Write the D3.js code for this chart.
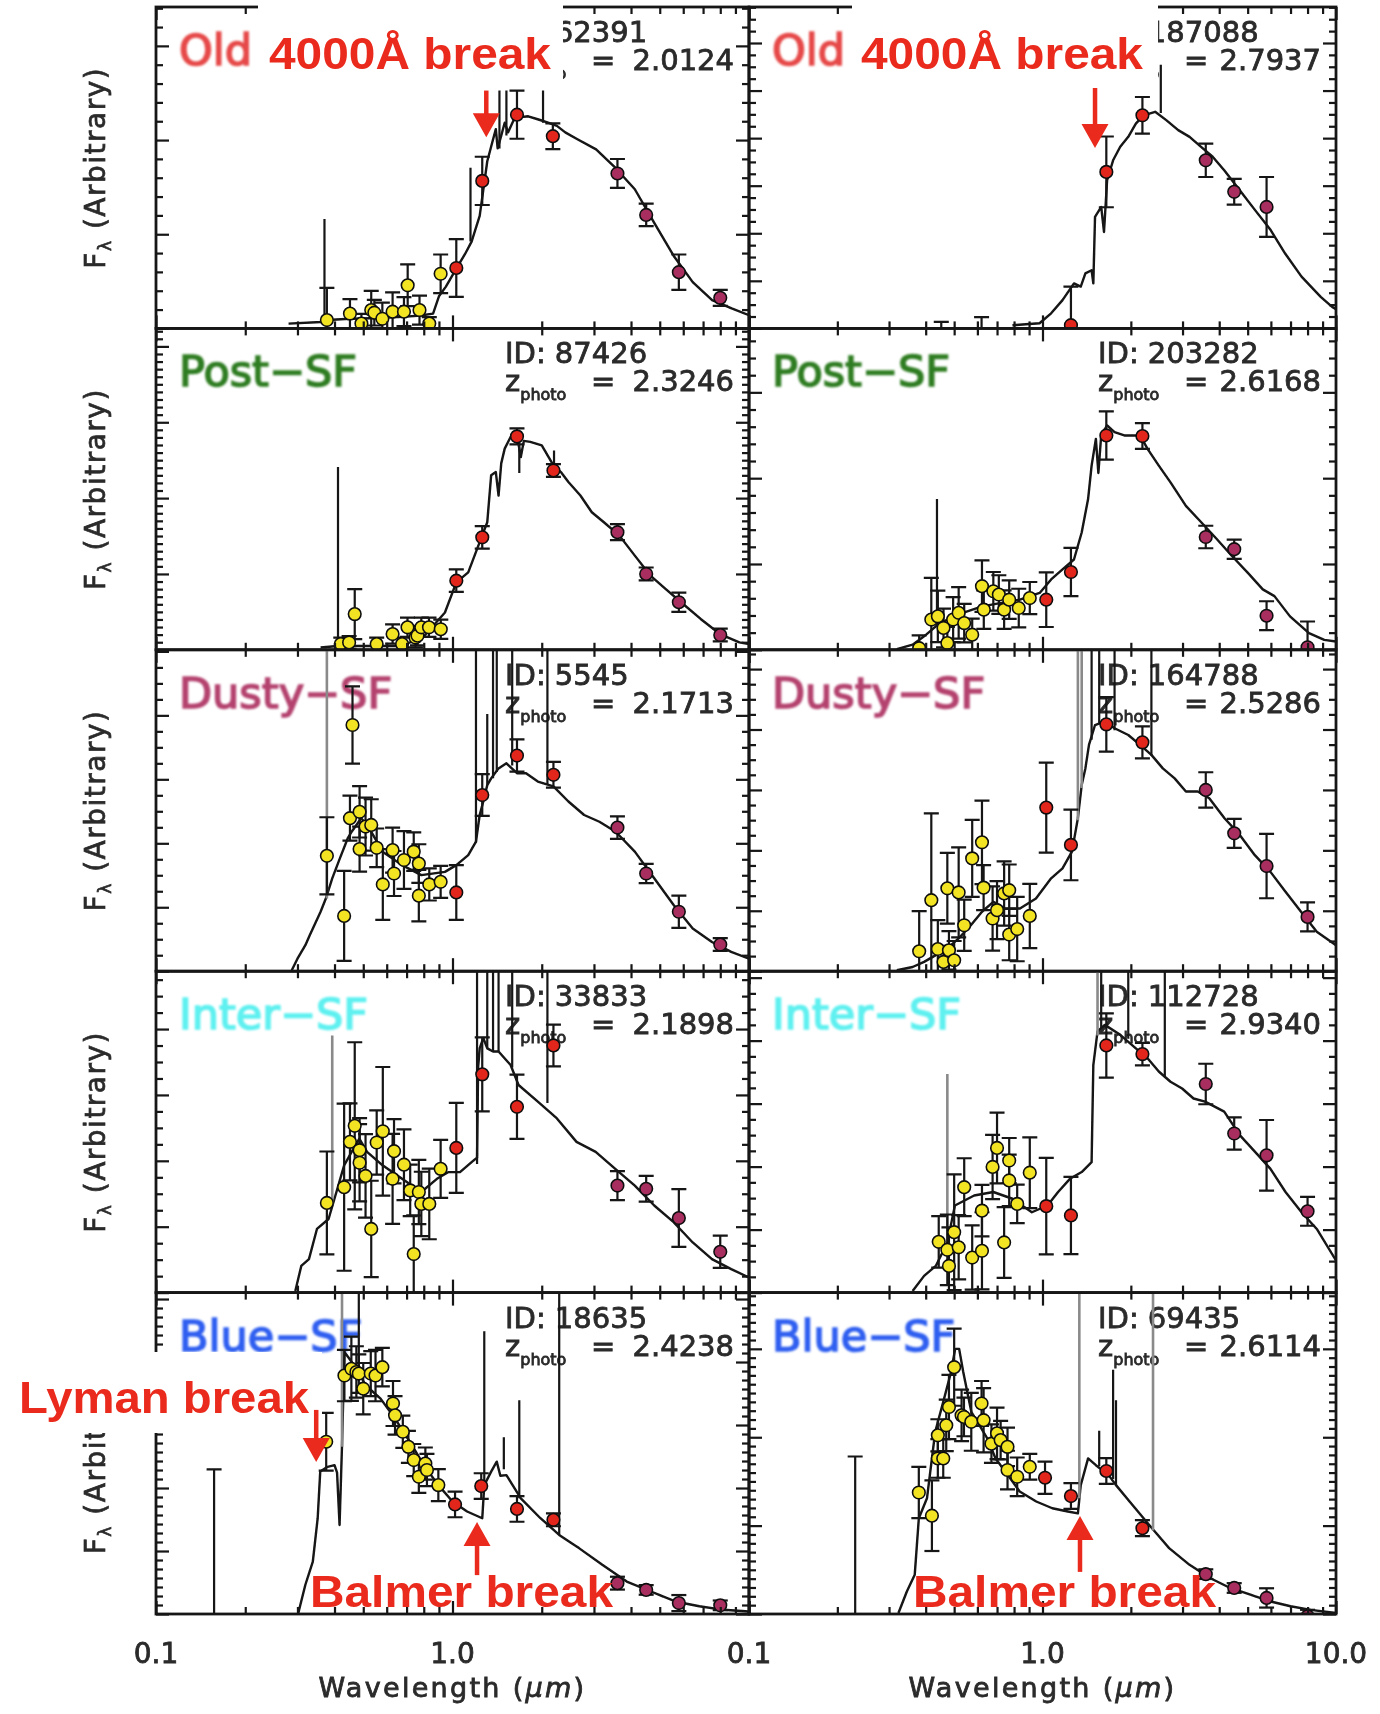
<!DOCTYPE html>
<html>
<head>
<meta charset="utf-8">
<script src="https://cdn.jsdelivr.net/npm/d3@7"></script>
<style>
  body { margin: 0; background: #fff; }
  svg { display: block; }
</style>
</head>
<body>
<svg id="chart" width="1380" height="1714"></svg>
<script>
// ---------------------------------------------------------------
// SED fits for ten galaxies: wavelength in micron, flux in arbitrary
// units (0-100 of each panel's range).  Model: [lambda, flux].
// Photometry: [lambda, flux, error].  Lines: [lambda, from, to].
// ---------------------------------------------------------------

const categories = ['Old', 'Post\u2212SF', 'Dusty\u2212SF', 'Inter\u2212SF', 'Blue\u2212SF'];
const categoryColors = ['#e64a48', '#2f7d22', '#b4426e', '#5ff0f0', '#2f5ff0'];

const galaxyIds = [['62391', '187088'], ['87426', '203282'], ['5545', '164788'], ['33833', '112728'], ['18635', '69435']];
const zPhoto = [['2.0124', '2.7937'], ['2.3246', '2.6168'], ['2.1713', '2.5286'], ['2.1898', '2.9340'], ['2.4238', '2.6114']];

const xMajorTicks = [0.1, 1, 10];
const xMinorTicks = [0.2, 0.3, 0.4, 0.5, 0.6, 0.7, 0.8, 0.9, 2, 3, 4, 5, 6, 7, 8, 9];

// ---- Old, left ----
const modelOldL = [[0.28,1.5],[0.36,2],[0.38,2.6],[0.45,3],[0.5,3.1],[0.6,3.4],[0.68,3.6],[0.78,4],[0.86,4.6],[0.90,10],[0.95,13],[1.03,18.6],[1.10,23],[1.16,27],[1.235,35],[1.31,52],[1.36,57.7],[1.40,62],[1.42,56],[1.46,60],[1.50,64],[1.54,61],[1.62,65.5],[1.80,66],[1.95,65],[2.1,64],[2.25,63],[2.4,61],[2.62,59],[3.05,55.7],[3.54,50],[4.12,43.3],[4.78,33],[5.56,22.7],[6.46,14.4],[7.51,8.8],[8.74,6.2],[10,4.1]];
const linesOldL = [[0.37,2,34],[1.15,27,50],[1.44,56,74],[1.52,60,74],[2.02,64,74]];
const greyOldL = [];
const yellowOldL = [[0.377,2.6,10],[0.451,4.6,4.5],[0.493,1.5,3],[0.532,5.7,6],[0.545,4.9,4],[0.58,3,5],[0.628,5.2,6],[0.686,5.2,4.5],[0.706,13.4,6.5],[0.774,5.7,4.5],[0.835,1.5,2],[0.912,17,6]];
const redOldL = [[1.03,18.8,9],[1.26,45.9,7.5],[1.65,66.5,7.5],[2.18,59.8,4]];
const purpleOldL = [[3.6,48.2,4.5],[4.5,35.3,3.5],[5.8,17.5,5.5],[8.0,9.5,2.5]];

// ---- Old, right ----
const modelOldR = [[0.79,1],[0.977,1.6],[1.07,4.7],[1.17,8.8],[1.28,14],[1.35,13],[1.40,17.1],[1.47,18.1],[1.49,14],[1.51,34.7],[1.585,37.8],[1.62,30],[1.66,46.1],[1.74,52.3],[1.84,56.5],[1.96,59.6],[2.08,63.7],[2.21,66.3],[2.42,67.4],[2.64,64.8],[2.90,61.7],[3.17,59.6],[3.47,56.5],[3.80,53.4],[4.16,49.2],[4.70,43],[5.30,36.8],[5.99,30.6],[6.71,23.3],[7.63,16.1],[8.87,9.8],[9.70,6.7],[10,6]];
const linesOldR = [[2.53,67,82]];
const greyOldR = [];
const yellowOldR = [[0.452,-2,4],[0.62,-2,5.5]];
const redOldR = [[1.25,1,12],[1.65,48.7,11],[2.19,66.3,5.7]];
const purpleOldR = [[3.6,52.3,5.2],[4.5,42.5,4],[5.8,37.8,9.3]];

// ---- Post-SF, left ----
const modelPostL = [[0.359,0.7],[0.41,1.2],[0.5,1.2],[0.656,1.2],[0.785,3.3],[0.943,11.6],[1.03,21],[1.13,24.1],[1.235,33.5],[1.31,39.7],[1.35,54.3],[1.40,55.3],[1.43,48],[1.46,58],[1.50,62.6],[1.57,66.2],[1.65,66.7],[1.70,60],[1.74,65],[1.83,64.7],[2.0,63.6],[2.19,57.4],[2.32,55.3],[2.46,52.2],[2.70,48],[2.95,42.8],[3.24,39.7],[3.65,35.6],[4.12,29.3],[4.65,23.1],[5.24,18.9],[5.90,14.8],[6.87,9.6],[7.98,4.9],[9.28,2.3],[10,1.8]];
const linesPostL = [[0.411,1.2,56.9],[1.68,55,66],[2.2,57,62]];
const greyPostL = [];
const yellowPostL = [[0.42,1.8,2],[0.448,2.3,2],[0.468,11.1,7.8],[0.555,1.8,2],[0.628,4.9,3],[0.676,1.8,2],[0.705,7,3],[0.75,3.8,3],[0.762,4.4,3],[0.785,7,3],[0.833,7,3],[0.913,6.4,3]];
const redPostL = [[1.03,21.5,3.5],[1.26,35,3.5],[1.65,66.4,2.5],[2.19,55.8,2]];
const purplePostL = [[3.6,36.6,2.5],[4.5,23.6,2],[5.8,14.8,3],[8.0,4.6,2]];

// ---- Post-SF, right ----
const modelPostR = [[0.319,0.2],[0.361,1.6],[0.395,4.2],[0.433,7.3],[0.474,9.4],[0.535,11.5],[0.623,13.5],[0.724,14.6],[0.838,15.6],[0.978,17.7],[1.07,21.9],[1.17,25],[1.28,28.1],[1.36,36.5],[1.43,46.9],[1.47,57.3],[1.52,65.6],[1.55,55],[1.585,66.7],[1.66,69.8],[1.76,67.7],[1.90,66.7],[2.15,66.7],[2.28,62.5],[2.49,57.3],[2.73,52.1],[3.08,44.8],[3.48,39.6],[3.93,34.4],[4.42,29.2],[5.0,24],[5.63,18.8],[6.17,16.7],[6.97,10.4],[8.09,5.2],[9.12,3.1],[10,2.6]];
const linesPostR = [[0.437,7.5,46.9]];
const greyPostR = [];
const yellowPostR = [[0.38,0.5,4],[0.418,9.4,13],[0.44,10.4,8],[0.46,6.8,6],[0.474,2.1,5],[0.496,9.4,7],[0.518,11.5,8],[0.541,8.3,6],[0.576,4.7,5],[0.622,19.8,8],[0.631,12.5,6],[0.68,18.2,6],[0.71,17.2,6],[0.74,12.5,6],[0.77,15.6,6],[0.83,13,6],[0.905,16.1,5]];
const redPostR = [[1.03,15.6,8.5],[1.25,24.2,7.5],[1.65,66.7,7.5],[2.19,66.5,4]];
const purplePostR = [[3.6,35.1,3.5],[4.5,31.3,3],[5.8,10.6,4.5],[8.0,0.8,8]];

// ---- Dusty-SF, left ----
const modelDustyL = [[0.287,0.3],[0.300,3.9],[0.319,8.1],[0.33,11.2],[0.359,18.5],[0.374,22.6],[0.393,28.9],[0.417,35.1],[0.443,41.3],[0.457,43.4],[0.492,47.6],[0.52,45],[0.581,37.2],[0.676,33],[0.785,29.9],[0.943,30.9],[1.03,33],[1.13,36.1],[1.20,40.3],[1.235,48.6],[1.27,52.8],[1.31,57.9],[1.35,60],[1.43,63.1],[1.52,64.7],[1.65,61.6],[1.77,61.6],[1.94,59],[2.19,57.5],[2.46,52.8],[2.78,48.6],[3.13,46.5],[3.55,43.4],[4.12,37.2],[4.79,28.9],[5.57,20.6],[6.46,13.3],[7.50,9.1],[8.71,6],[10,3.9]];
const linesDustyL = [[1.20,40,110],[1.31,58,80],[1.37,60,110],[1.41,62,110],[1.59,64,110],[2.09,58,110]];
const greyDustyL = [[0.377,22.6,110]];
const yellowDustyL = [[0.377,35.9,12],[0.431,17.2,14],[0.451,47.6,7],[0.46,76.6,12],[0.486,49.6,8],[0.486,38,7],[0.509,45,9],[0.532,45.5,8],[0.555,38.4,6],[0.582,27,11],[0.628,37.7,7],[0.635,30.4,7],[0.686,34.6,9],[0.74,37.2,6],[0.77,33.5,6],[0.77,23.5,8],[0.835,27,5],[0.912,27.8,5]];
const redDustyL = [[1.03,24.5,8.5],[1.26,54.8,6.5],[1.65,67.1,5],[2.19,61.1,4]];
const purpleDustyL = [[3.6,44.7,3.5],[4.5,30.4,3],[5.8,18.5,5],[8.0,8.3,2]];

// ---- Dusty-SF, right ----
const modelDustyR = [[0.319,0.3],[0.361,1.3],[0.395,2.9],[0.433,5],[0.474,7.1],[0.518,10.2],[0.57,14.3],[0.622,18.5],[0.68,21.6],[0.745,19.5],[0.838,19.5],[0.95,22.6],[1.07,28.9],[1.17,32],[1.26,37.2],[1.32,47.6],[1.36,57.9],[1.40,63.1],[1.44,70.4],[1.51,76.6],[1.63,77.7],[1.76,75.6],[1.96,73.5],[2.15,70.4],[2.35,67.3],[2.57,63.1],[2.82,60],[3.08,55.9],[3.38,55.9],[3.70,53.8],[4.17,47.6],[4.70,42.4],[5.29,36.1],[5.98,30.9],[6.73,24.7],[7.6,18.5],[8.6,12.3],[10,8.1]];
const linesDustyR = [[1.47,72,110],[1.56,77,110],[1.76,75,110],[2.35,67,110]];
const greyDustyR = [[1.32,47,110],[1.36,57,110]];
const yellowDustyR = [[0.38,6.2,12.5],[0.418,22.1,27],[0.44,6.9,9],[0.46,2.9,5],[0.474,25.8,11],[0.48,6.5,6],[0.50,3.4,6],[0.518,24.5,14],[0.541,14.3,8],[0.576,35.1,12],[0.622,40.1,13],[0.63,26,7],[0.676,16.4,10],[0.70,19,9],[0.74,24.2,10],[0.77,25.2,8],[0.77,11.4,8],[0.82,13.1,10],[0.905,17.2,10]];
const redDustyR = [[1.03,50.9,14],[1.25,39.3,11],[1.65,76.8,8.5],[2.19,71.2,5]];
const purpleDustyR = [[3.6,56.4,5.5],[4.5,42.9,4.5],[5.8,32.7,10],[8.0,16.9,4.5]];

// ---- Inter-SF, left ----
const modelInterL = [[0.295,0.5],[0.309,8.3],[0.328,10.4],[0.349,19.8],[0.382,22.9],[0.406,31.3],[0.431,39.6],[0.457,43.8],[0.485,47.9],[0.515,43.8],[0.581,39.6],[0.676,35.4],[0.785,31.3],[0.886,35.4],[0.97,37.5],[1.06,37.5],[1.16,40.6],[1.21,42],[1.22,70],[1.235,76],[1.27,79.2],[1.31,76],[1.37,75],[1.43,75],[1.57,70.8],[1.67,64.6],[1.94,59.4],[2.25,54.2],[2.62,46.9],[3.04,43.8],[3.54,38.5],[4.12,33.3],[4.79,27.1],[5.57,21.9],[6.46,15.6],[7.50,10.4],[8.71,7.3],[10,4.7]];
const linesInterL = [[1.21,40,110],[1.31,76,110],[1.37,75,110],[1.43,75,110],[1.59,70,110],[2.09,59,110]];
const greyInterL = [[0.393,27,80]];
const yellowInterL = [[0.377,27.9,16],[0.431,32.8,26],[0.451,46.9,12],[0.468,51.9,26],[0.486,44.3,10],[0.486,40.4,12],[0.509,36.3,13],[0.532,19.8,15],[0.555,46.7,10],[0.582,50.2,20],[0.628,35.4,14],[0.635,44,10],[0.686,39.8,11],[0.72,31.8,8],[0.74,12,12],[0.77,31.3,10],[0.785,27.6,10],[0.835,27.6,11],[0.912,38.5,9]];
const redInterL = [[1.03,45,14],[1.26,67.9,11.5],[1.65,57.8,10],[2.19,76.9,6.5]];
const purpleInterL = [[3.6,33.3,4.5],[4.5,32.3,4],[5.8,23.2,9],[8.0,12.7,5]];

// ---- Inter-SF, right ----
const modelInterR = [[0.361,0.5],[0.395,5.2],[0.433,8.3],[0.474,15.6],[0.503,27.1],[0.585,30.2],[0.68,31.3],[0.79,29.2],[0.92,25],[1.04,27.1],[1.13,31.3],[1.24,35.4],[1.36,37.5],[1.47,40.6],[1.49,70.8],[1.54,81.3],[1.63,83.3],[1.84,80.2],[2.08,76],[2.28,72.9],[2.49,68.8],[2.73,65.6],[2.99,63.5],[3.27,60.4],[3.58,59.4],[4.16,56.3],[4.70,49],[5.30,43.8],[5.98,38.5],[6.73,31.3],[7.63,25],[8.60,19.8],[10,10]];
const linesInterR = [[1.585,82,110],[1.96,79,110],[2.61,67,110]];
const greyInterR = [[0.474,15.6,68],[1.54,80,110]];
const yellowInterR = [[0.443,15.8,8],[0.474,13.3,11],[0.48,8.3,12],[0.50,18.8,18],[0.518,14.1,10],[0.541,32.8,9],[0.576,10.9,10],[0.622,25.5,8],[0.622,13,12],[0.676,39.1,10],[0.70,45,11],[0.74,15.6,11],[0.77,41.1,7],[0.77,34.9,8],[0.82,27.6,6],[0.905,37.3,11]];
const redInterR = [[1.03,26.9,15],[1.25,24,12],[1.65,76.9,10],[2.19,74.2,3.5]];
const purpleInterR = [[3.6,64.9,6.3],[4.5,49.5,5],[5.8,42.7,11],[8.0,25.3,4.5]];

// ---- Blue-SF, left ----
const modelBlueL = [[0.302,0.3],[0.319,9.1],[0.338,16.3],[0.351,29.8],[0.358,44.3],[0.379,45.8],[0.40,46.3],[0.408,44],[0.416,27.7],[0.424,52.5],[0.432,81.5],[0.449,79.4],[0.474,76.3],[0.51,71.1],[0.572,67],[0.64,60.8],[0.718,53.6],[0.80,46.3],[0.896,40.1],[1.0,35],[1.12,31.9],[1.26,29.8],[1.28,40.1],[1.35,44.3],[1.41,47.4],[1.45,43],[1.52,43.2],[1.70,36],[1.98,29.8],[2.29,24.6],[2.67,20.5],[3.2,15.3],[3.87,10.1],[4.67,7],[5.64,3.9],[6.8,2.4],[8.2,1.3],[10,0.8]];
const linesBlueL = [[1.28,40,88],[1.49,45,55],[1.68,36,66.5],[2.29,24.6,110],[0.483,75,110]];
const greyBlueL = [[0.424,52,110]];
const yellowBlueL = [[0.157,-6,51],[0.375,53.6,9],[0.432,74.2,8],[0.456,76.3,10],[0.474,75.3,8],[0.483,74.8,6],[0.50,70.1,8],[0.53,74.8,7],[0.55,74.2,8],[0.58,76.8,6],[0.63,65.5,7],[0.64,61.8,6],[0.68,56.7,5],[0.71,52,5],[0.74,47.9,5],[0.77,42.7,5],[0.81,46.8,5],[0.82,44.8,5],[0.896,40.1,5]];
const redBlueL = [[1.02,34.1,4],[1.25,39.8,4],[1.65,32.7,4],[2.19,29.3,2]];
const purpleBlueL = [[3.6,9.6,2],[4.5,7.5,1.5],[5.8,3.4,2.5],[8.0,2.7,1.5]];

// ---- Blue-SF, right ----
const modelBlueR = [[0.323,0.3],[0.345,7],[0.367,12.2],[0.379,29.8],[0.404,36],[0.431,56.7],[0.459,66],[0.488,75.3],[0.504,82.5],[0.52,82.5],[0.537,75.3],[0.572,62.9],[0.61,58.7],[0.649,54.6],[0.692,48.4],[0.762,43.2],[0.836,38.1],[0.952,35],[1.08,32.9],[1.22,31.9],[1.32,31.3],[1.35,40.1],[1.39,44.3],[1.43,48.4],[1.52,46.3],[1.68,43.2],[1.78,40.1],[1.98,35],[2.31,27.7],[2.70,20.5],[3.17,15.3],[3.72,11.2],[4.36,8.1],[5.11,6],[5.99,3.9],[7.0,2.4],[8.2,1.3],[10,0.3]];
const linesBlueR = [[1.56,46,57],[1.74,42,76],[1.78,40,66.5]];
const greyBlueR = [[1.335,36,110],[2.38,26,110]];
const yellowBlueR = [[0.23,-6,55],[0.379,37.8,8],[0.42,30.6,11],[0.44,55.6,5],[0.44,48.4,6],[0.459,48.4,6],[0.47,58.7,8],[0.48,64.4,10],[0.50,76.8,12],[0.53,61.8,8],[0.54,61.3,6],[0.572,59.8,9],[0.62,65.5,7],[0.63,60.3,10],[0.67,53,6],[0.70,56.2,8],[0.72,54.1,6],[0.76,52,6],[0.76,44.8,6],[0.82,42.7,6],[0.905,45.8,4]];
const redBlueR = [[1.02,42.4,5],[1.25,36.7,4],[1.65,44.5,4],[2.19,26.7,2.5]];
const purpleBlueR = [[3.6,12.4,1.5],[4.5,8.1,1.5],[5.8,5,3],[8.0,-0.7,2]];

// Break markers: [lambda, arrow tail flux, arrow tip flux]
const break4000OldL = [1.30, 74, 59.5];
const break4000OldR = [1.51, 74.8, 56.1];
const lymanBlueL = [0.347, 63.5, 47.3];
const balmerBlueL = [1.21, 12.1, 28.6];
const balmerBlueR = [1.342, 13.1, 30.5];

// ---------------------------------------------------------------
const panels = [
  { row: 0, col: 0, model: modelOldL, lines: linesOldL, grey: greyOldL, yellow: yellowOldL, red: redOldL, purple: purpleOldL, yMajor: 29.3, yMinor: 5 },
  { row: 0, col: 1, model: modelOldR, lines: linesOldR, grey: greyOldR, yellow: yellowOldR, red: redOldR, purple: purpleOldR, yMajor: 14.8, yMinor: 4 },
  { row: 1, col: 0, model: modelPostL, lines: linesPostL, grey: greyPostL, yellow: yellowPostL, red: redPostL, purple: purplePostL, yMajor: 23.6, yMinor: 10 },
  { row: 1, col: 1, model: modelPostR, lines: linesPostR, grey: greyPostR, yellow: yellowPostR, red: redPostR, purple: purplePostR, yMajor: 26.7, yMinor: 5 },
  { row: 2, col: 0, model: modelDustyL, lines: linesDustyL, grey: greyDustyL, yellow: yellowDustyL, red: redDustyL, purple: purpleDustyL, yMajor: 19.9, yMinor: 4 },
  { row: 2, col: 1, model: modelDustyR, lines: linesDustyR, grey: greyDustyR, yellow: yellowDustyR, red: redDustyR, purple: purpleDustyR, yMajor: 18.8, yMinor: 4 },
  { row: 3, col: 0, model: modelInterL, lines: linesInterL, grey: greyInterL, yellow: yellowInterL, red: redInterL, purple: purpleInterL, yMajor: 20.5, yMinor: 4 },
  { row: 3, col: 1, model: modelInterR, lines: linesInterR, grey: greyInterR, yellow: yellowInterR, red: redInterR, purple: purpleInterR, yMajor: 19.6, yMinor: 4 },
  { row: 4, col: 0, model: modelBlueL, lines: linesBlueL, grey: greyBlueL, yellow: yellowBlueL, red: redBlueL, purple: purpleBlueL, yMajor: 19.6, yMinor: 7 },
  { row: 4, col: 1, model: modelBlueR, lines: linesBlueR, grey: greyBlueR, yellow: yellowBlueR, red: redBlueR, purple: purpleBlueR, yMajor: 27.5, yMinor: 10 }
];

const colEdges = [[156, 749], [749, 1336]];
const rowEdges = [7, 328.4, 649.8, 971.2, 1292.6, 1614];
const ink = '#141414';
const textInk = '#2a2a2a';
const fontIDL = '"DejaVu Sans", sans-serif';

const svg = d3.select('#chart');
const defs = svg.append('defs');
defs.append('filter').attr('id', 'soft').attr('x', '-2%').attr('y', '-2%').attr('width', '104%').attr('height', '104%')
  .append('feGaussianBlur').attr('stdDeviation', 0.6);
defs.append('filter').attr('id', 'fuzzy').attr('x', '-10%').attr('y', '-20%').attr('width', '120%').attr('height', '140%')
  .append('feGaussianBlur').attr('stdDeviation', 0.9);

svg.append('rect').attr('width', 1380).attr('height', 1714).attr('fill', '#fff');
const plot = svg.append('g').attr('filter', 'url(#soft)');

// thicker strokes for the plotting font, like a vector plot font
const heavy = (sel, color, w) => sel.attr('stroke', color).attr('stroke-width', w).attr('paint-order', 'stroke');

const scales = {};

function drawPanel(p) {
  const [x0, x1] = colEdges[p.col];
  const y0 = rowEdges[p.row], y1 = rowEdges[p.row + 1];
  const x = d3.scaleLog().domain([0.1, 10]).range([x0, x1]);
  const y = d3.scaleLinear().domain([0, 100]).range([y1, y0]);
  scales[p.row + '-' + p.col] = { x, y };

  const cid = 'clip-' + p.row + '-' + p.col;
  defs.append('clipPath').attr('id', cid).append('rect')
    .attr('x', x0).attr('y', y0).attr('width', x1 - x0).attr('height', y1 - y0);

  const g = plot.append('g');
  const inner = g.append('g').attr('clip-path', 'url(#' + cid + ')');

  // class name and galaxy identification
  inner.append('text').attr('x', x0 + 23).attr('y', y0 + 58)
    .attr('font-family', fontIDL).attr('font-size', 43).attr('fill', categoryColors[p.row])
    .attr('filter', 'url(#fuzzy)').call(heavy, categoryColors[p.row], 1.6).text(categories[p.row]);

  const idX = x0 + 349;
  inner.append('text').attr('x', idX).attr('y', y0 + 35)
    .attr('font-family', fontIDL).attr('font-size', 29).attr('fill', textInk).call(heavy, textInk, 0.8)
    .text('ID: ' + galaxyIds[p.row][p.col]);
  const zt = inner.append('text').attr('x', idX).attr('y', y0 + 63)
    .attr('font-family', fontIDL).attr('font-size', 29).attr('fill', textInk).call(heavy, textInk, 0.8);
  zt.append('tspan').text('z');
  zt.append('tspan').attr('font-size', 16).attr('dy', 9).text('photo');
  inner.append('text').attr('x', idX + 86).attr('y', y0 + 63)
    .attr('font-family', fontIDL).attr('font-size', 29).attr('fill', textInk).call(heavy, textInk, 0.8).text('=');
  inner.append('text').attr('x', x1 - 15).attr('y', y0 + 63).attr('text-anchor', 'end')
    .attr('font-family', fontIDL).attr('font-size', 29).attr('fill', textInk).call(heavy, textInk, 0.8)
    .text(zPhoto[p.row][p.col]);

  // best-fit model spectrum
  const line = d3.line().x(d => x(d[0])).y(d => y(d[1]));
  inner.append('path').datum(p.model).attr('d', line)
    .attr('fill', 'none').attr('stroke', ink).attr('stroke-width', 2.4).attr('stroke-linejoin', 'round');

  // emission lines
  inner.selectAll('line.grey').data(p.grey).join('line').attr('class', 'grey')
    .attr('x1', d => x(d[0])).attr('x2', d => x(d[0]))
    .attr('y1', d => y(d[1])).attr('y2', d => y(d[2]))
    .attr('stroke', '#8a8a8a').attr('stroke-width', 2.6);
  inner.selectAll('line.emis').data(p.lines).join('line').attr('class', 'emis')
    .attr('x1', d => x(d[0])).attr('x2', d => x(d[0]))
    .attr('y1', d => y(d[1])).attr('y2', d => y(d[2]))
    .attr('stroke', ink).attr('stroke-width', 2.2);

  // photometry with error bars
  const sets = [[p.yellow, '#f2e422'], [p.red, '#e3261d'], [p.purple, '#a82f5e']];
  const cap = 7.5;
  sets.forEach(([data]) => {
    const eb = inner.append('g').attr('stroke', ink).attr('stroke-width', 2.2);
    data.forEach(d => {
      const cx = x(d[0]), lo = y(d[1] - d[2]), hi = y(d[1] + d[2]);
      eb.append('line').attr('x1', cx).attr('x2', cx).attr('y1', lo).attr('y2', hi);
      eb.append('line').attr('x1', cx - cap).attr('x2', cx + cap).attr('y1', lo).attr('y2', lo);
      eb.append('line').attr('x1', cx - cap).attr('x2', cx + cap).attr('y1', hi).attr('y2', hi);
    });
  });
  sets.forEach(([data, fill]) => {
    inner.append('g').selectAll('circle').data(data).join('circle')
      .attr('cx', d => x(d[0])).attr('cy', d => y(d[1])).attr('r', 6.3)
      .attr('fill', fill).attr('stroke', '#111').attr('stroke-width', 1.6);
  });

  // frame and ticks on all four sides
  const ax = g.append('g');
  const yMinor = d3.range(0, 100.001, p.yMajor / p.yMinor).filter((v, i) => i % p.yMinor !== 0);
  const yMajor = d3.range(0, 100.001, p.yMajor);
  const styleAxis = sel => {
    sel.select('.domain').remove();
    sel.selectAll('line').attr('stroke', ink).attr('stroke-width', 2.2);
  };
  [[yMajor, 13], [yMinor, 7]].forEach(([vals, len]) => {
    ax.append('g').attr('transform', 'translate(' + x0 + ',0)')
      .call(d3.axisLeft(y).tickValues(vals).tickSize(-len).tickFormat('')).call(styleAxis);
    ax.append('g').attr('transform', 'translate(' + x1 + ',0)')
      .call(d3.axisRight(y).tickValues(vals).tickSize(-len).tickFormat('')).call(styleAxis);
  });
  [[xMajorTicks, 13], [xMinorTicks, 7]].forEach(([vals, len]) => {
    ax.append('g').attr('transform', 'translate(0,' + y1 + ')')
      .call(d3.axisBottom(x).tickValues(vals).tickSize(-len).tickFormat('')).call(styleAxis);
    ax.append('g').attr('transform', 'translate(0,' + y0 + ')')
      .call(d3.axisTop(x).tickValues(vals).tickSize(-len).tickFormat('')).call(styleAxis);
  });
  ax.append('rect').attr('x', x0).attr('y', y0).attr('width', x1 - x0).attr('height', y1 - y0)
    .attr('fill', 'none').attr('stroke', ink).attr('stroke-width', 2.8);
}

panels.forEach(drawPanel);

// y-axis titles
rowEdges.slice(0, 5).forEach((top, i) => {
  const mid = (top + rowEdges[i + 1]) / 2;
  const t = plot.append('text')
    .attr('transform', 'translate(105,' + mid + ') rotate(-90)')
    .attr('text-anchor', 'middle').attr('font-family', fontIDL).attr('font-size', 28)
    .attr('letter-spacing', 1.5).attr('fill', textInk).call(heavy, textInk, 0.7);
  t.append('tspan').text('F');
  t.append('tspan').attr('font-size', 17).attr('dy', 6).text('\u03bb');
  t.append('tspan').attr('dy', -6).text(' (Arbitrary)');
});

// x tick labels and titles below the last row
const fmt = d3.format('.1f');
[[0, [0.1, 1]], [1, [0.1, 1, 10]]].forEach(([col, vals]) => {
  const x = scales['4-' + col].x;
  plot.append('g').selectAll('text').data(vals).join('text')
    .attr('x', d => x(d)).attr('y', 1663).attr('text-anchor', 'middle')
    .attr('font-family', fontIDL).attr('font-size', 28).attr('fill', textInk).call(heavy, textInk, 0.8)
    .text(d => fmt(d));
  const t = plot.append('text').attr('x', x(1)).attr('y', 1697).attr('text-anchor', 'middle')
    .attr('font-family', fontIDL).attr('font-size', 27).attr('letter-spacing', 2.3)
    .attr('fill', textInk).call(heavy, textInk, 0.8);
  t.append('tspan').text('Wavelength (');
  t.append('tspan').attr('font-style', 'italic').text('\u03bcm');
  t.append('tspan').text(')');
});

// ---------------------------------------------------------------
// Break annotations
// ---------------------------------------------------------------
const notes = svg.append('g');
const red = '#ea2a1c';
const noteFont = '"Liberation Sans", Arial, Helvetica, sans-serif';

function arrow(key, b) {
  const { x, y } = scales[key];
  const cx = x(b[0]), tail = y(b[1]), tip = y(b[2]);
  const dir = Math.sign(tip - tail);
  const head = 24, half = 13.5;
  const base = tip - dir * head;
  notes.append('line').attr('x1', cx).attr('x2', cx).attr('y1', tail).attr('y2', base + dir * 2)
    .attr('stroke', red).attr('stroke-width', 4.5);
  notes.append('path')
    .attr('d', 'M' + (cx - half) + ',' + base + 'L' + (cx + half) + ',' + base + 'L' + cx + ',' + tip + 'Z')
    .attr('fill', red);
}

function label(txt, x, y, w) {
  notes.append('text').attr('x', x).attr('y', y)
    .attr('font-family', noteFont).attr('font-weight', 'bold').attr('font-size', 45)
    .attr('textLength', w).attr('lengthAdjust', 'spacingAndGlyphs')
    .attr('fill', red).text(txt);
}

notes.append('rect').attr('x', 258).attr('y', 2).attr('width', 305).attr('height', 85).attr('fill', '#fff');
notes.append('rect').attr('x', 852).attr('y', 2).attr('width', 306).attr('height', 85).attr('fill', '#fff');
notes.append('rect').attr('x', 0).attr('y', 1352).attr('width', 322).attr('height', 81).attr('fill', '#fff');

label('4000\u00c5 break', 269, 69, 282);
label('4000\u00c5 break', 861, 69, 282);
label('Lyman break', 19, 1413, 290);
label('Balmer break', 310, 1607, 303);
label('Balmer break', 913, 1607, 303);

arrow('0-0', break4000OldL);
arrow('0-1', break4000OldR);
arrow('4-0', lymanBlueL);
arrow('4-0', balmerBlueL);
arrow('4-1', balmerBlueR);
</script>
</body>
</html>
